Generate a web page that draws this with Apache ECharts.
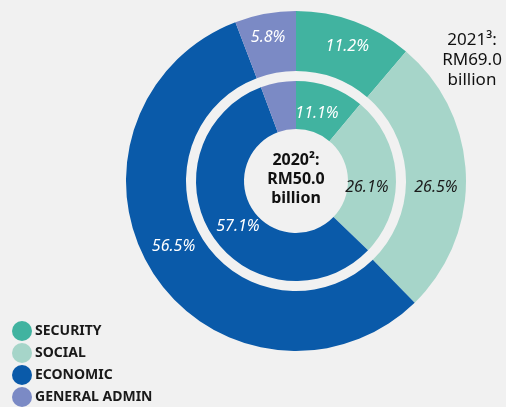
<!DOCTYPE html>
<html>
<head>
<meta charset="utf-8">
<script src="https://cdn.jsdelivr.net/npm/echarts@6/dist/echarts.min.js"></script>
<style>
  html, body { margin: 0; padding: 0; background: #f1f1f1; }
  #chart { width: 506px; height: 407px; }
</style>
</head>
<body>
<div id="chart"></div>
<script>
// Expenditure shares by function
const categories = ['SECURITY', 'SOCIAL', 'ECONOMIC', 'GENERAL ADMIN'];
const share2021 = [11.2, 26.5, 56.5, 5.8];   // outer ring
const share2020 = [11.1, 26.1, 57.1, 5.7];   // inner ring
const colors = ['#41b3a0', '#a6d5c9', '#0a5aa9', '#7b8ac5'];
const labelColors = ['#ffffff', '#1a1a1a', '#ffffff', '#ffffff'];

// small nudges so the percentage labels sit nicely inside each slice
const outerLabelNudge = [[2, 0], [-3, 11], [-2, -12], [-2, -3]];
const innerLabelNudge = [[-6, 7], [-8, 11], [8, 2], [0, 1]];

const fontFamily = '"Noto Sans", "Open Sans", sans-serif';

function ringData(values, nudges) {
  return values.map((v, i) => ({
    name: categories[i],
    value: v,
    itemStyle: { color: colors[i] },
    label: { color: labelColors[i], offset: nudges[i] }
  }));
}

const ringLabel = {
  show: true,
  position: 'inside',
  formatter: p => p.value.toFixed(1) + '%',
  fontFamily: fontFamily,
  fontStyle: 'italic',
  fontSize: 16
};

const chart = echarts.init(document.getElementById('chart'), null, { renderer: 'canvas' });
chart.setOption({
  backgroundColor: '#f1f1f1',
  animation: false,
  color: colors,
  legend: {
    orient: 'vertical',
    left: 12,
    top: 321,
    height: 120,
    padding: 0,
    icon: 'circle',
    itemWidth: 20,
    itemHeight: 20,
    itemGap: 2,
    data: categories,
    textStyle: {
      fontFamily: fontFamily,
      fontWeight: 'bold',
      fontSize: 14,
      color: '#1a1a1a',
      padding: [0, 0, 0, -2]
    }
  },
  series: [
    {
      name: '2021',
      type: 'pie',
      center: [296, 181],
      radius: [110, 170],
      startAngle: 90,
      clockwise: true,
      silent: true,
      label: ringLabel,
      labelLine: { show: false },
      data: ringData(share2021, outerLabelNudge)
    },
    {
      name: '2020',
      type: 'pie',
      center: [296, 181],
      radius: [52, 100],
      startAngle: 90,
      clockwise: true,
      silent: true,
      label: ringLabel,
      labelLine: { show: false },
      data: ringData(share2020, innerLabelNudge)
    }
  ],
  graphic: [
    {
      type: 'text',
      x: 296,
      y: 151,
      style: {
        text: '2020²:\nRM50.0\nbillion',
        align: 'center',
        verticalAlign: 'top',
        fontFamily: fontFamily,
        fontWeight: 'bold',
        fontSize: 16,
        lineHeight: 19,
        fill: '#111111'
      }
    },
    {
      type: 'text',
      x: 472,
      y: 30,
      style: {
        text: '2021³:\nRM69.0\nbillion',
        align: 'center',
        verticalAlign: 'top',
        fontFamily: fontFamily,
        fontSize: 17,
        lineHeight: 20,
        fill: '#111111'
      }
    }
  ]
});
</script>
</body>
</html>
